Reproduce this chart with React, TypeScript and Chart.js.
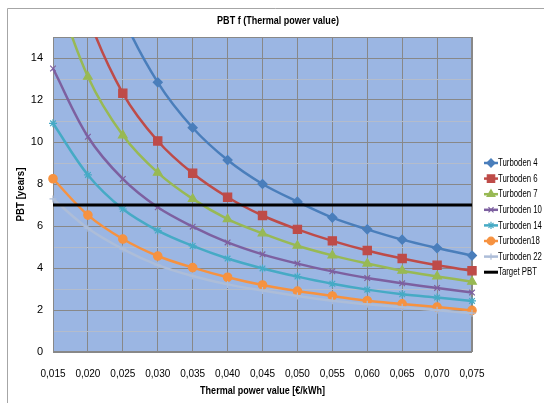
import React, { useEffect, useRef } from 'react';
import { Chart, registerables } from 'chart.js';
import { drawPoint } from 'chart.js/helpers';

Chart.register(...registerables);

const xLabels = ['0,015', '0,020', '0,025', '0,030', '0,035', '0,040', '0,045', '0,050', '0,055', '0,060', '0,065', '0,070', '0,075'];

const turboden4 = [27.5, 20.8, 16.0, 12.84, 10.68, 9.14, 8.0, 7.16, 6.4, 5.84, 5.35, 4.95, 4.59];
const turboden6 = [21.5, 16.0, 12.32, 10.05, 8.51, 7.37, 6.5, 5.84, 5.29, 4.83, 4.45, 4.13, 3.87];
const turboden7 = [17.6, 13.11, 10.32, 8.54, 7.29, 6.33, 5.65, 5.06, 4.6, 4.21, 3.87, 3.6, 3.35];
const turboden10 = [13.5, 10.25, 8.24, 6.89, 5.97, 5.22, 4.65, 4.21, 3.84, 3.52, 3.27, 3.05, 2.83];
const turboden14 = [10.89, 8.43, 6.81, 5.78, 5.05, 4.45, 3.98, 3.59, 3.25, 2.97, 2.75, 2.59, 2.43];
const turboden18 = [8.25, 6.52, 5.38, 4.57, 4.02, 3.56, 3.19, 2.9, 2.67, 2.44, 2.29, 2.14, 1.98];
const turboden22 = [7.29, 5.89, 4.9, 4.14, 3.62, 3.22, 2.93, 2.67, 2.44, 2.27, 2.13, 1.99, 1.85];
const targetPBT = [7, 7, 7, 7, 7, 7, 7, 7, 7, 7, 7, 7, 7];

const seriesNames = ['Turboden 4', 'Turboden 6', 'Turboden 7', 'Turboden 10', 'Turboden 14', 'Turboden18', 'Turboden 22', 'Target PBT'];
const seriesColors = ['#4A7EBB', '#BE4B48', '#98B954', '#7D60A0', '#46AAC5', '#F69240', '#ADBDD8', '#000000'];
const seriesMarkers: any[] = ['rectRot', 'rect', 'triangle', 'crossRot', 'star', 'circle', 'cross', false];
const markerRadius = [4.5, 5.8, 5, 4, 4, 4.2, 3.5, 0];
const seriesData = [turboden4, turboden6, turboden7, turboden10, turboden14, turboden18, turboden22, targetPBT];

const yMin = 0;
const yMax = 15;

const FAMILY = "'Liberation Sans', Arial, sans-serif";
const TITLE = 'PBT f (Thermal power value)';
const X_TITLE = 'Thermal power value [€/kWh]';
const Y_TITLE = 'PBT [years]';

function condensedText(ctx: CanvasRenderingContext2D, text: string, x: number, y: number, sx: number, align: 'left' | 'center') {
  ctx.save();
  ctx.translate(x, y);
  ctx.scale(sx, 1);
  ctx.textAlign = align;
  ctx.fillText(text, 0, 0);
  ctx.restore();
}

const decorPlugin = {
  id: 'decor',
  beforeDraw(chart: any) {
    const { ctx, chartArea: a } = chart;
    ctx.save();
    ctx.fillStyle = '#ffffff';
    ctx.fillRect(0, 0, chart.width, chart.height);
    ctx.fillStyle = '#9BB6E3';
    ctx.fillRect(a.left, a.top, a.right - a.left, a.bottom - a.top);
    ctx.strokeStyle = '#A6A6A6';
    ctx.lineWidth = 1;
    ctx.beginPath();
    ctx.moveTo(7.5, chart.height);
    ctx.lineTo(7.5, 8.5);
    ctx.lineTo(chart.width, 8.5);
    ctx.stroke();
    ctx.restore();
  },
  beforeDatasetsDraw(chart: any) {
    const { ctx, chartArea: a } = chart;
    ctx.save();
    ctx.strokeStyle = '#888888';
    ctx.lineWidth = 1;
    ctx.strokeRect(a.left + 0.5, a.top + 0.5, a.right - a.left - 1, a.bottom - a.top - 1);
    ctx.restore();
  },
  afterDraw(chart: any) {
    const { ctx, chartArea: a } = chart;
    ctx.save();
    ctx.fillStyle = '#000';
    ctx.textBaseline = 'middle';
    ctx.font = `bold 11px ${FAMILY}`;
    condensedText(ctx, TITLE, 278, 21, 0.82, 'center');
    condensedText(ctx, X_TITLE, (a.left + a.right) / 2, 391, 0.82, 'center');
    ctx.save();
    ctx.translate(21, (a.top + a.bottom) / 2);
    ctx.rotate(-Math.PI / 2);
    condensedText(ctx, Y_TITLE, 0, 0, 0.88, 'center');
    ctx.restore();

    const lx0 = 484;
    const lx1 = 498;
    const y0 = 163;
    const dy = 15.6;
    ctx.font = `10px ${FAMILY}`;
    seriesNames.forEach((name, i) => {
      const y = y0 + i * dy;
      ctx.strokeStyle = seriesColors[i];
      ctx.lineWidth = i === 7 ? 3 : 2.5;
      ctx.beginPath();
      ctx.moveTo(lx0, y);
      ctx.lineTo(lx1, y);
      ctx.stroke();
      if (seriesMarkers[i]) {
        ctx.fillStyle = seriesColors[i];
        ctx.strokeStyle = seriesColors[i];
        ctx.lineWidth = 1.2;
        drawPoint(ctx, { pointStyle: seriesMarkers[i], radius: markerRadius[i] * 0.9, borderWidth: 1.2, rotation: 0 } as any, (lx0 + lx1) / 2, y);
      }
      ctx.fillStyle = '#000';
      condensedText(ctx, name, lx1, y + 0.5, 0.78, 'left');
    });
    ctx.restore();
  },
};

export default function App() {
  const ref = useRef<HTMLCanvasElement>(null);

  useEffect(() => {
    if (!ref.current) return;
    const n = seriesNames.length;
    const chart = new Chart(ref.current, {
      type: 'line',
      data: {
        labels: xLabels,
        datasets: seriesNames.map((name, i) => ({
          label: name,
          data: seriesData[i],
          borderColor: seriesColors[i],
          backgroundColor: seriesColors[i],
          pointBackgroundColor: seriesColors[i],
          pointBorderColor: seriesColors[i],
          pointStyle: seriesMarkers[i],
          pointRadius: markerRadius[i],
          pointBorderWidth: 1.2,
          borderWidth: i === 7 ? 3 : 2.5,
          tension: i === 7 ? 0 : 0.35,
          fill: false,
          order: n - i,
        })),
      },
      options: {
        responsive: false,
        animation: false,
        layout: { padding: { top: 37, right: 72, left: 0, bottom: 0 } },
        plugins: {
          legend: { display: false },
          title: { display: false },
          tooltip: { enabled: false },
        },
        scales: {
          x: {
            type: 'category',
            offset: false,
            grid: { color: '#888888', drawTicks: false, offset: false, lineWidth: 1 },
            border: { display: false },
            ticks: {
              color: '#000',
              padding: 16,
              maxRotation: 0,
              autoSkip: false,
              font: { family: FAMILY, size: 10 },
            },
            afterFit: (s: any) => {
              s.height = 51;
            },
          },
          y: {
            min: yMin,
            max: yMax,
            grid: {
              drawTicks: false,
              color: (c: any) => (c.tick && c.tick.value % 2 === 0 ? '#888888' : '#B4BCCB'),
              lineWidth: 1,
            },
            border: { display: false },
            ticks: {
              stepSize: 1,
              autoSkip: false,
              color: '#000',
              padding: 10,
              font: { family: FAMILY, size: 11 },
              callback: (v: any) => (Number(v) % 2 === 0 && Number(v) < 15 ? String(v) : ''),
            },
            afterFit: (s: any) => {
              s.width = 53;
            },
          },
        },
      },
      plugins: [decorPlugin],
    });
    return () => chart.destroy();
  }, []);

  return (
    <div style={{ position: 'absolute', left: 0, top: 0, width: 544, height: 403 }}>
      <canvas ref={ref} width={544} height={403} style={{ display: 'block', width: 544, height: 403 }} />
    </div>
  );
}
